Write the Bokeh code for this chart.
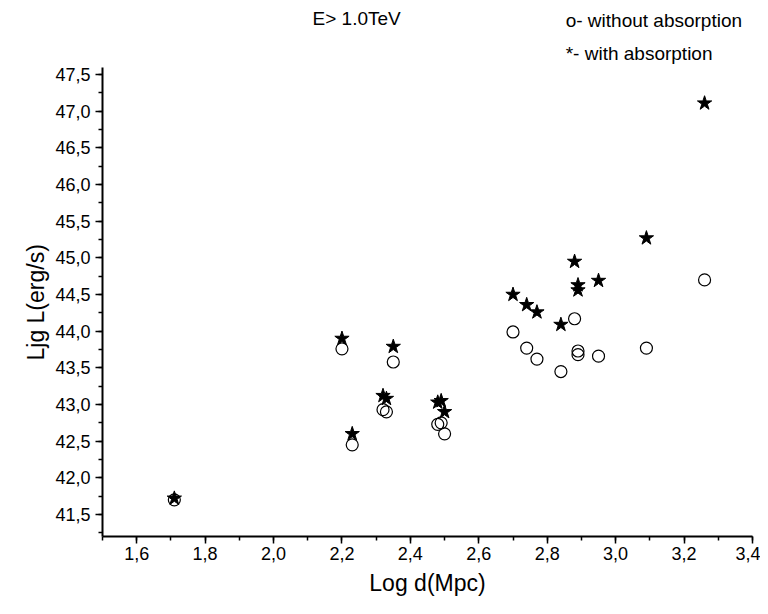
from bokeh.plotting import figure
from bokeh.models import Label, SingleIntervalTicker, CustomJSTickFormatter, Range1d, Title
from bokeh.embed import file_html
from bokeh.resources import INLINE

# Data
log_d = [1.71, 2.20, 2.23, 2.32, 2.33, 2.35, 2.48, 2.49, 2.50, 2.70,
         2.74, 2.77, 2.84, 2.88, 2.89, 2.89, 2.95, 3.09, 3.26]
lum_without = [41.70, 43.76, 42.45, 42.93, 42.90, 43.58, 42.73, 42.75, 42.60, 43.99,
               43.77, 43.62, 43.45, 44.17, 43.68, 43.73, 43.66, 43.77, 44.70]
lum_with = [41.72, 43.90, 42.60, 43.12, 43.08, 43.79, 43.03, 43.05, 42.90, 44.50,
            44.36, 44.26, 44.09, 44.95, 44.56, 44.63, 44.69, 45.27, 47.11]

title_text = "E> 1.0TeV"
legend_lines = ["o- without absorption", "*- with absorption"]
x_label = "Log d(Mpc)"
y_label = "Ljg L(erg/s)"

FONT = "Liberation Sans"

p = figure(width=760, height=598, output_backend="svg", toolbar_location=None,
           x_range=Range1d(1.5, 3.4001), y_range=Range1d(41.20, 48.443),
           min_border_left=102, min_border_right=8, min_border_top=5, min_border_bottom=61)
p.outline_line_color = None
p.grid.visible = False
p.background_fill_color = "white"
p.border_fill_color = "white"

fmt = CustomJSTickFormatter(code="return tick.toFixed(1).replace('.', ',');")

p.xaxis.ticker = SingleIntervalTicker(interval=0.2, num_minor_ticks=2)
p.yaxis.ticker = SingleIntervalTicker(interval=0.5, num_minor_ticks=2)
p.yaxis.bounds = (41.20, 47.6)
for ax in (p.xaxis, p.yaxis):
    ax.formatter = fmt
    ax.axis_line_width = 2
    ax.axis_line_color = "black"
    ax.major_tick_in = 0
    ax.major_tick_out = 7
    ax.minor_tick_in = 0
    ax.minor_tick_out = 4
    ax.major_tick_line_width = 1.5
    ax.minor_tick_line_width = 1.5
    ax.major_label_text_font = FONT
    ax.major_label_text_font_size = "18px"
    ax.major_label_text_color = "black"
    ax.axis_label_text_font = FONT
    ax.axis_label_text_font_size = "23px"
    ax.axis_label_text_font_style = "normal"
    ax.axis_label_text_color = "black"

p.xaxis.axis_label = x_label
p.xaxis.major_label_standoff = 3
p.xaxis.axis_label_standoff = 7
p.yaxis.major_label_standoff = 5

p.add_layout(Title(text=y_label, align="left", offset=176, standoff=8,
                   text_font=FONT, text_font_size="23px", text_font_style="normal",
                   text_color="black"), "left")

p.scatter(log_d, lum_without, marker="circle", size=12, fill_color=None,
          line_color="black", line_width=1.2)
p.scatter(log_d, lum_with, marker="star", size=15, fill_color="black",
          line_color="black", line_width=1)

p.add_layout(Label(x=2.114, y=48.27, text=title_text, text_font=FONT,
                   text_font_size="19px", text_baseline="middle", text_color="black"))
p.add_layout(Label(x=2.854, y=48.245, text=legend_lines[0], text_font=FONT,
                   text_font_size="19px", text_baseline="middle", text_color="black"))
p.add_layout(Label(x=2.854, y=47.795, text=legend_lines[1], text_font=FONT,
                   text_font_size="19px", text_baseline="middle", text_color="black"))

open("out.html", "w").write(file_html(p, INLINE))
